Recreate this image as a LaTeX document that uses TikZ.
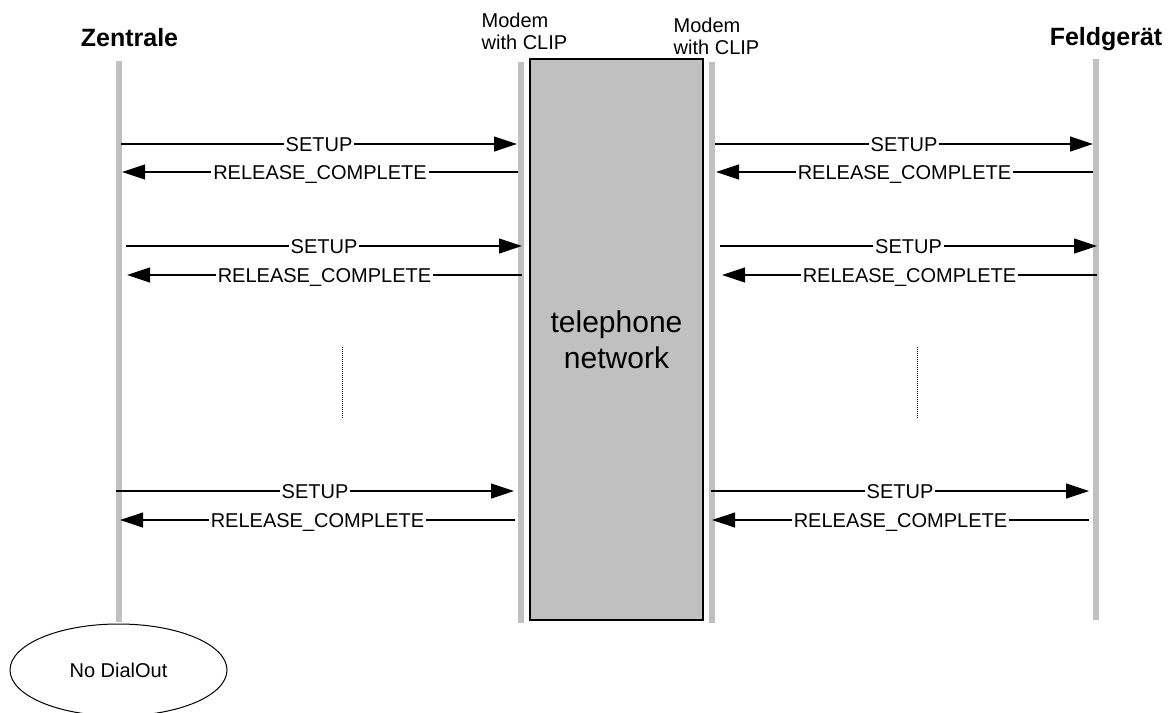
\documentclass[tikz,border=0pt]{standalone}
\usepackage{fontspec}
\setmainfont{Liberation Sans}
\usetikzlibrary{arrows.meta,shapes.geometric}

\definecolor{lifegray}{RGB}{192,192,192}

\tikzset{
  lifeline/.style={draw=lifegray, line width=6pt, line cap=butt},
  msg/.style={draw=black, line width=1.2pt, -{Triangle[length=23pt,width=15pt]}},
  lbl/.style={fill=white, inner xsep=2pt, inner ysep=0pt, text height=14pt, text depth=0pt,
              font=\fontsize{20}{22}\selectfont},
  party/.style={inner sep=0pt, anchor=base, font=\fontsize{25}{30}\selectfont\bfseries},
  modem/.style={inner sep=0pt, anchor=north west, align=left, font=\fontsize{20}{22}\selectfont},
  gap/.style={draw=black, line width=1pt, dash pattern=on 1pt off 1pt}
}

\begin{document}
\begin{tikzpicture}[x=1pt, y=-1pt]
\useasboundingbox (0,0) rectangle (1174,712);

% headings
\node[party] (zentrale) at (129.5,46) {Zentrale};
\node[party] (feld) at (1106,45) {Feldgerät};
\node[modem] (modemL) at (481.5,13) {Modem\\with CLIP};
\node[modem] (modemR) at (673.5,18) {Modem\\with CLIP};

% life lines
\coordinate (zTop) at (119,61);    \coordinate (zBot) at (119,622);
\coordinate (mlTop) at (520.5,62); \coordinate (mlBot) at (520.5,623);
\coordinate (mrTop) at (712,62);   \coordinate (mrBot) at (712,623);
\coordinate (fTop) at (1096,59);   \coordinate (fBot) at (1096,620);
\draw[lifeline] (zTop) -- (zBot);
\draw[lifeline] (mlTop) -- (mlBot);
\draw[lifeline] (mrTop) -- (mrBot);
\draw[lifeline] (fTop) -- (fBot);

% telephone network
\node[draw=black, line width=1.5pt, fill=lifegray, minimum width=173pt, minimum height=561pt,
      inner sep=0pt, align=center, font=\fontsize{30}{36}\selectfont] (net) at (616.5,339.5)
      {telephone\\network};

% No DialOut state
\node[draw=black, line width=1pt, ellipse, minimum width=217pt, minimum height=92pt,
      font=\fontsize{20}{22}\selectfont] (nodial) at (118.5,670) {No DialOut};

% message end points, row 1
\coordinate (a1s) at (121,144);  \coordinate (b1s) at (517,144);
\coordinate (b1r) at (518,172);  \coordinate (a1r) at (122,172);
\coordinate (c1s) at (715,144);  \coordinate (d1s) at (1093,144);
\coordinate (d1r) at (1093,172); \coordinate (c1r) at (716,172);
% row 2
\coordinate (a2s) at (126,246);  \coordinate (b2s) at (522,246);
\coordinate (b2r) at (522,275);  \coordinate (a2r) at (127,275);
\coordinate (c2s) at (720,246);  \coordinate (d2s) at (1097,246);
\coordinate (d2r) at (1097,275); \coordinate (c2r) at (722,275);
% row 3
\coordinate (a3s) at (116,491);  \coordinate (b3s) at (514,491);
\coordinate (b3r) at (515,520);  \coordinate (a3r) at (120,520);
\coordinate (c3s) at (711,491);  \coordinate (d3s) at (1089,491);
\coordinate (d3r) at (1089,520); \coordinate (c3r) at (712,520);

\foreach \r in {1,2,3}{
  \draw[msg] (a\r s) -- node[lbl]{SETUP} (b\r s);
  \draw[msg] (b\r r) -- node[lbl]{RELEASE\_COMPLETE} (a\r r);
  \draw[msg] (c\r s) -- node[lbl]{SETUP} (d\r s);
  \draw[msg] (d\r r) -- node[lbl]{RELEASE\_COMPLETE} (c\r r);
}

% omitted repetitions
\coordinate (gLtop) at (342,347); \coordinate (gLbot) at (342,418);
\coordinate (gRtop) at (917,347); \coordinate (gRbot) at (917,418);
\draw[gap] (gLtop) -- (gLbot);
\draw[gap] (gRtop) -- (gRbot);
\end{tikzpicture}
\end{document}
